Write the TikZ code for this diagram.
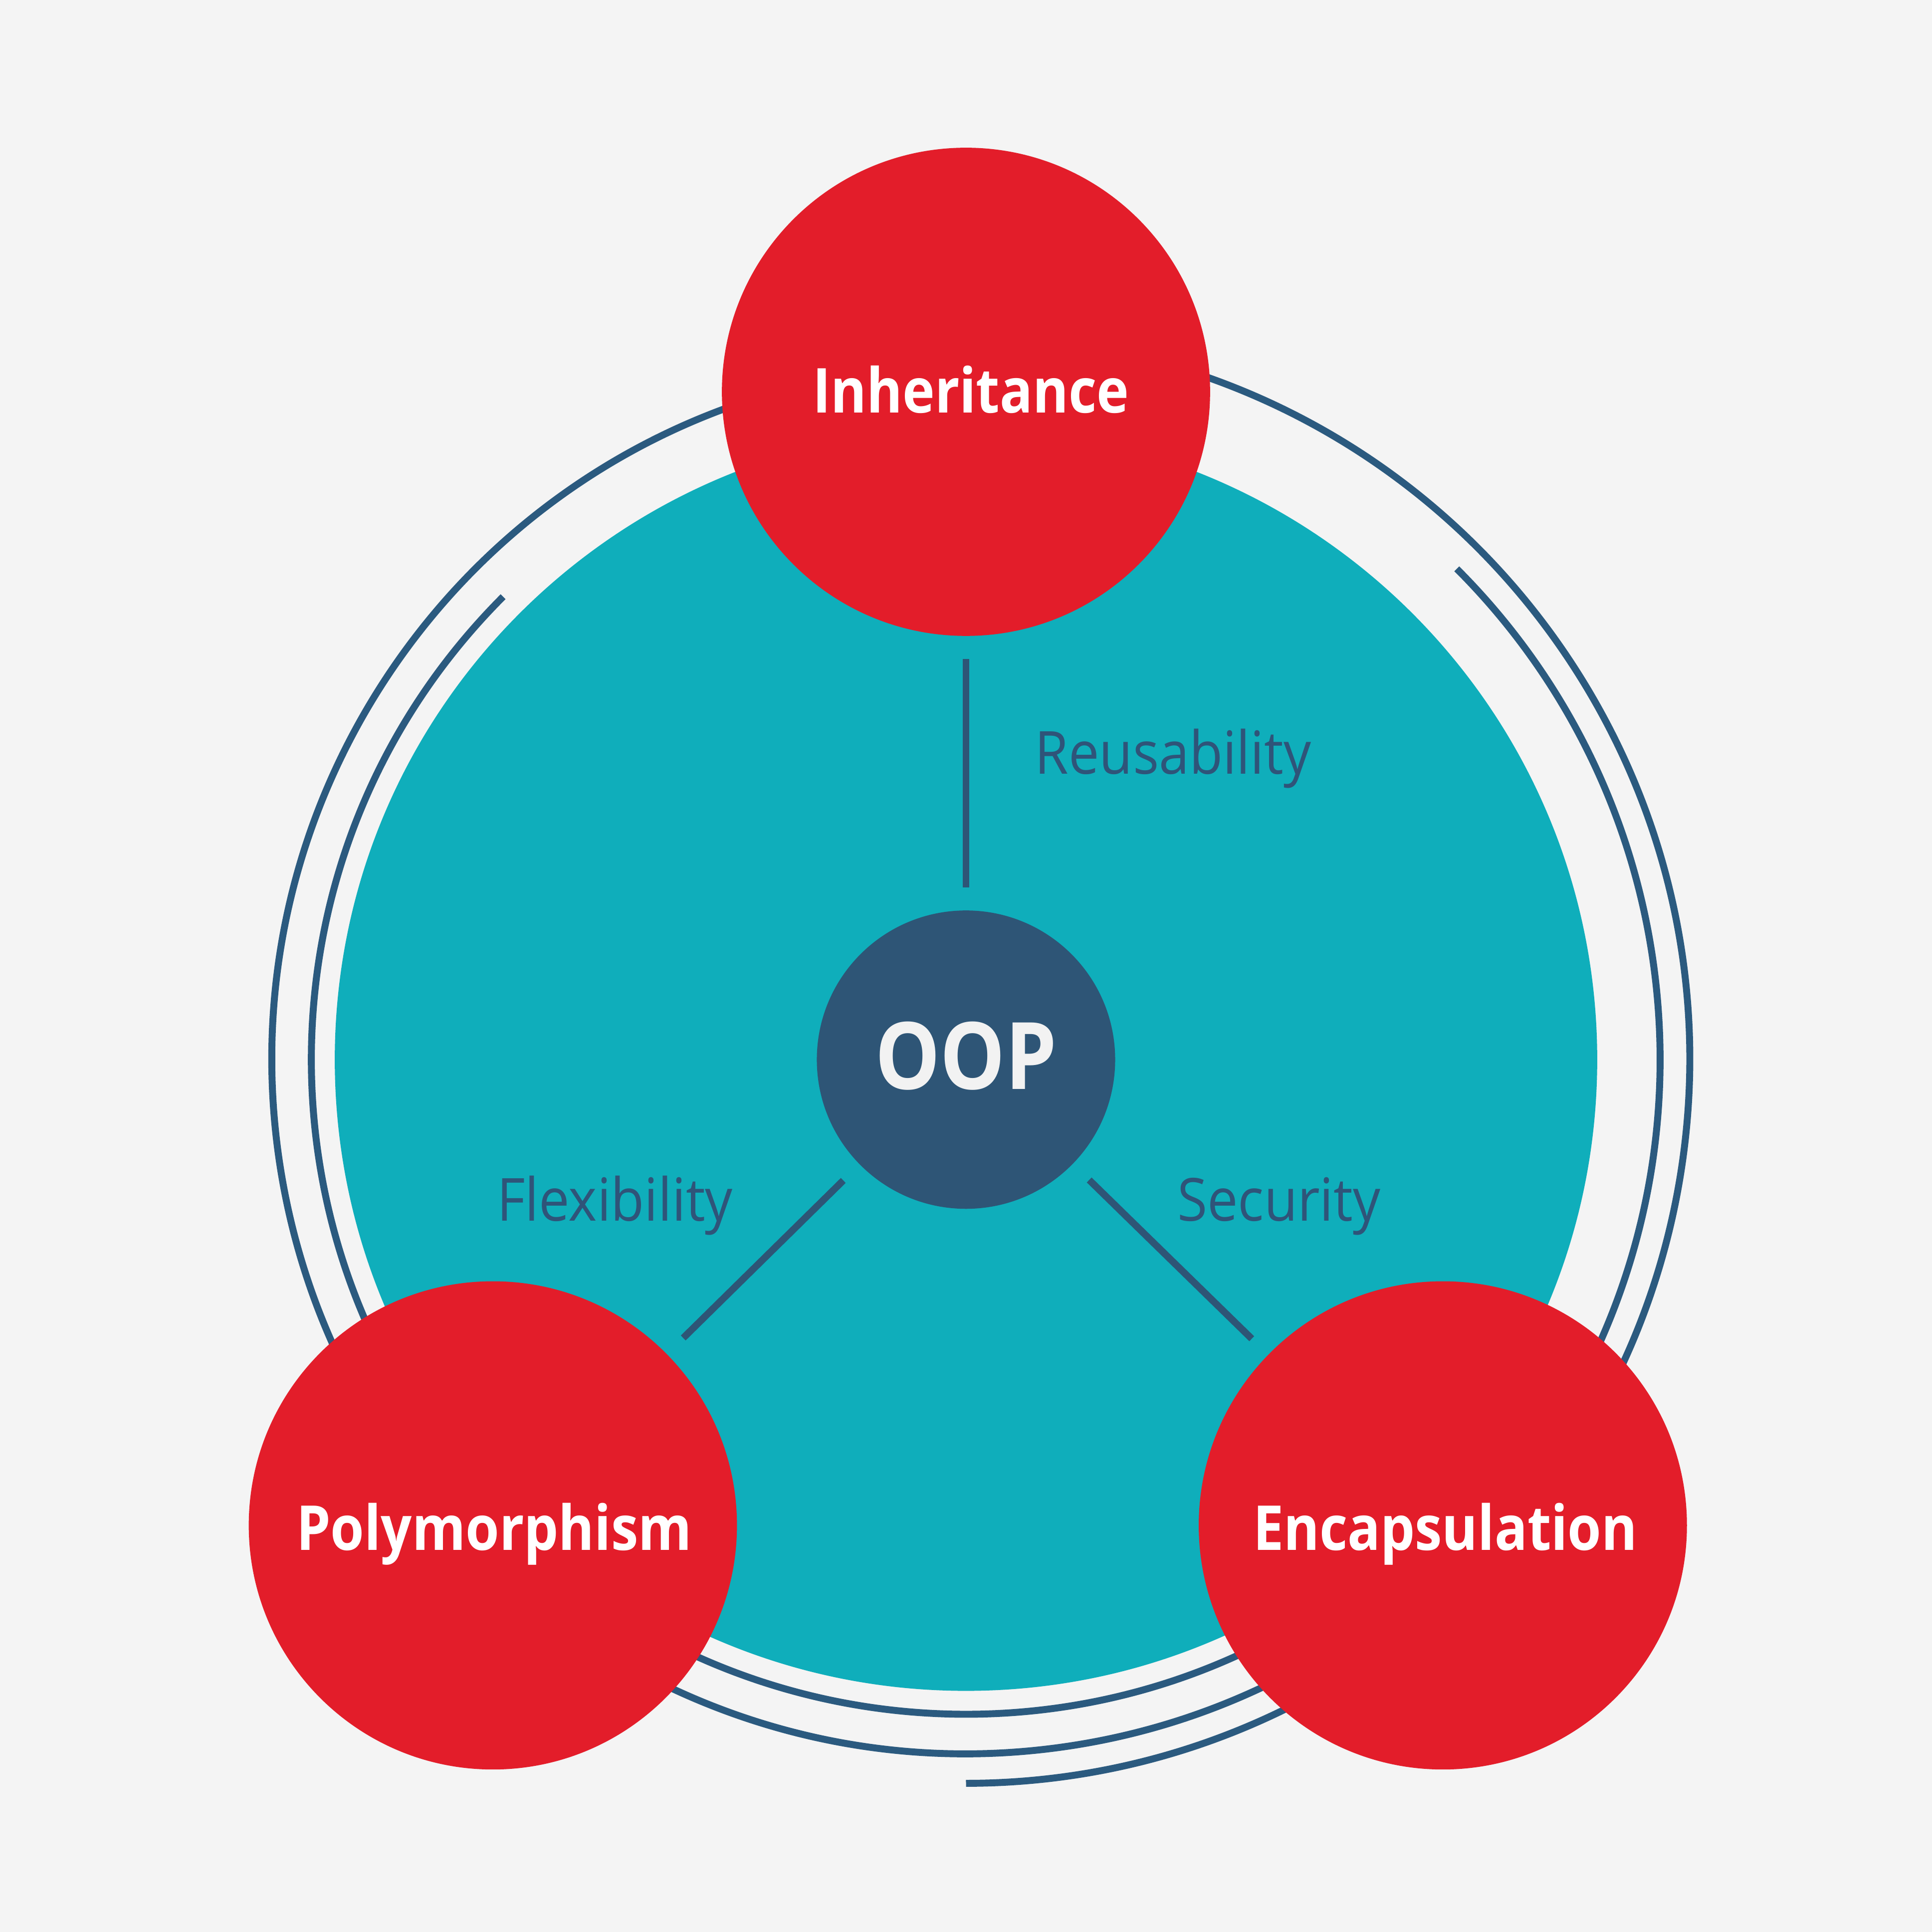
\documentclass[tikz,border=0pt]{standalone}
\usepackage{fontspec}
\setmainfont{Open Sans}
\newfontfamily\labelfont{Open Sans}[FakeStretch=0.92]
\newfontfamily\headfont{Open Sans}[FakeStretch=0.88]
\definecolor{bgcol}{HTML}{F4F4F4}
\definecolor{tealcol}{HTML}{0FAEBB}
\definecolor{redcol}{HTML}{E31D2A}
\definecolor{navycol}{HTML}{2E5576}
\definecolor{arccol}{HTML}{2B5A7F}
\definecolor{textcol}{HTML}{2F5479}
\definecolor{oopcol}{HTML}{F2F2F2}
\begin{document}
\begin{tikzpicture}[x=0.01cm,y=0.01cm,
  ring/.style={draw=arccol,line width=1.6pt},
  link/.style={draw=navycol,line width=1.6pt,shorten <=0.18cm,shorten >=0.18cm},
  pillar/.style={circle,fill=redcol,inner sep=0pt,minimum size=3.96cm},
  pillartext/.style={text=white,font=\headfont\bfseries\fontsize{14.3}{17}\selectfont,anchor=base},
  benefit/.style={text=textcol,font=\labelfont\fontsize{13.7}{16}\selectfont,anchor=base}]
% canvas
\fill[bgcol] (0,0) rectangle (1568,1568);
\useasboundingbox (0,0) rectangle (1568,1568);
\coordinate (c0) at (784,708);

% concentric rings behind the circles
\draw[ring] ([shift={(100:5.63cm)}]c0) arc[start angle=100,end angle=320,radius=5.63cm];
\draw[ring] ([shift={(80:5.87cm)}]c0) arc[start angle=80,end angle=-90,radius=5.87cm];
\draw[ring] ([shift={(135:5.31cm)}]c0) arc[start angle=135,end angle=310,radius=5.31cm];
\draw[ring] ([shift={(45:5.63cm)}]c0) arc[start angle=45,end angle=-35,radius=5.63cm];

% large teal disc
\node[circle,fill=tealcol,inner sep=0pt,minimum size=10.24cm] (disc) at (c0) {};

% core and pillars
\node[circle,fill=navycol,inner sep=0pt,minimum size=2.42cm] (oop) at (c0) {};
\node[pillar] (inh) at (784,1250) {};
\node[pillar] (poly) at (400,330) {};
\node[pillar] (enc) at (1171,330) {};

% connectors
\draw[link] (oop) -- (inh);
\draw[link] (oop) -- (poly);
\draw[link] (oop) -- (enc);

% texts
\node[text=oopcol,font=\headfont\bfseries\fontsize{21.5}{24}\selectfont,anchor=base] (oopt) at (784,684) {OOP};
\node[pillartext] (inht) at (788,1233) {Inheritance};
\node[pillartext] (polyt) at (401,310) {Polymorphism};
\node[pillartext] (enct) at (1173,310) {Encapsulation};
\node[benefit] (reu) at (952,940) {Reusability};
\node[benefit] (flex) at (499,577) {Flexibility};
\node[benefit] (sec) at (1038,577) {Security};
\end{tikzpicture}
\end{document}
